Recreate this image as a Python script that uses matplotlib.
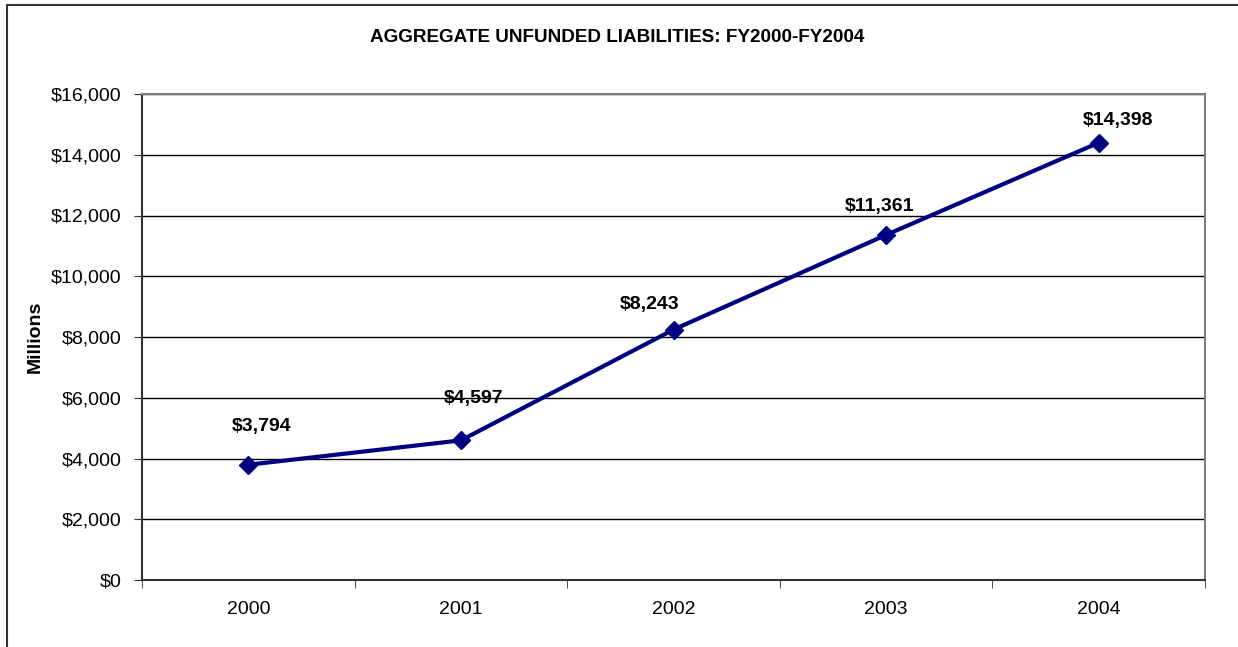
import matplotlib
matplotlib.use("Agg")
import matplotlib.pyplot as plt
from matplotlib.patches import Rectangle

# dados
years = ["2000", "2001", "2002", "2003", "2004"]
liabilities = [3794, 4597, 8243, 11361, 14398]
# deslocamento dos rótulos (pixels) em relação ao ponto
label_dx = [13, 13, -24, -7, 19]
label_dy = [38, 42, 25, 28, 22]
y_ticks = [0, 2000, 4000, 6000, 8000, 10000, 12000, 14000, 16000]

plt.rcParams['font.family'] = ['Liberation Sans', 'DejaVu Sans']

fig = plt.figure(figsize=(12.38, 6.47), dpi=100)
ax = fig.add_axes([142 / 1238, 67 / 647, 1063 / 1238, 486 / 647])

# moldura externa do gráfico
fig.patches.append(Rectangle((7 / 1238, -0.1), 1.2, 0.1 + (647 - 5) / 647,
                             transform=fig.transFigure, fill=False,
                             edgecolor='#333333', linewidth=1.5))

x = range(len(years))
ax.plot(x, liabilities, color='#000080', linewidth=3, marker='D',
        markersize=9, zorder=3)

for i, v in enumerate(liabilities):
    ax.annotate(f"${v:,}", (i, v), xytext=(label_dx[i], label_dy[i]),
                textcoords='offset pixels', ha='center', va='center',
                fontsize=14, fontweight='bold', color='black')

ax.set_xlim(-0.5, len(years) - 0.5)
ax.set_ylim(0, 16000)
ax.set_yticks(y_ticks)
ax.set_yticklabels([f"${v:,}" for v in y_ticks], fontsize=14)
ax.set_xticks(list(x))
ax.set_xticklabels(years, fontsize=14)
ax.set_xticks([i - 0.5 for i in range(len(years) + 1)], minor=True)
ax.tick_params(axis='x', which='major', length=0, pad=15)
ax.tick_params(axis='x', which='minor', length=6, direction='out', color='#333333')
ax.tick_params(axis='y', length=6, direction='out', color='#333333', pad=9)

ax.grid(axis='y', color='black', linewidth=1)
ax.set_axisbelow(True)
ax.spines['left'].set_color('#333333')
ax.spines['bottom'].set_color('#333333')
ax.spines['top'].set_color('#808080')
ax.spines['right'].set_color('#808080')
for s in ax.spines.values():
    s.set_linewidth(1.5)

ax.set_ylabel("Millions", fontsize=14, fontweight='bold', labelpad=5)
fig.text(617 / 1238, 1 - 37 / 647, "AGGREGATE UNFUNDED LIABILITIES: FY2000-FY2004",
         ha='center', va='center', fontsize=13.6, fontweight='bold')

fig.savefig("out.png", dpi=100)
